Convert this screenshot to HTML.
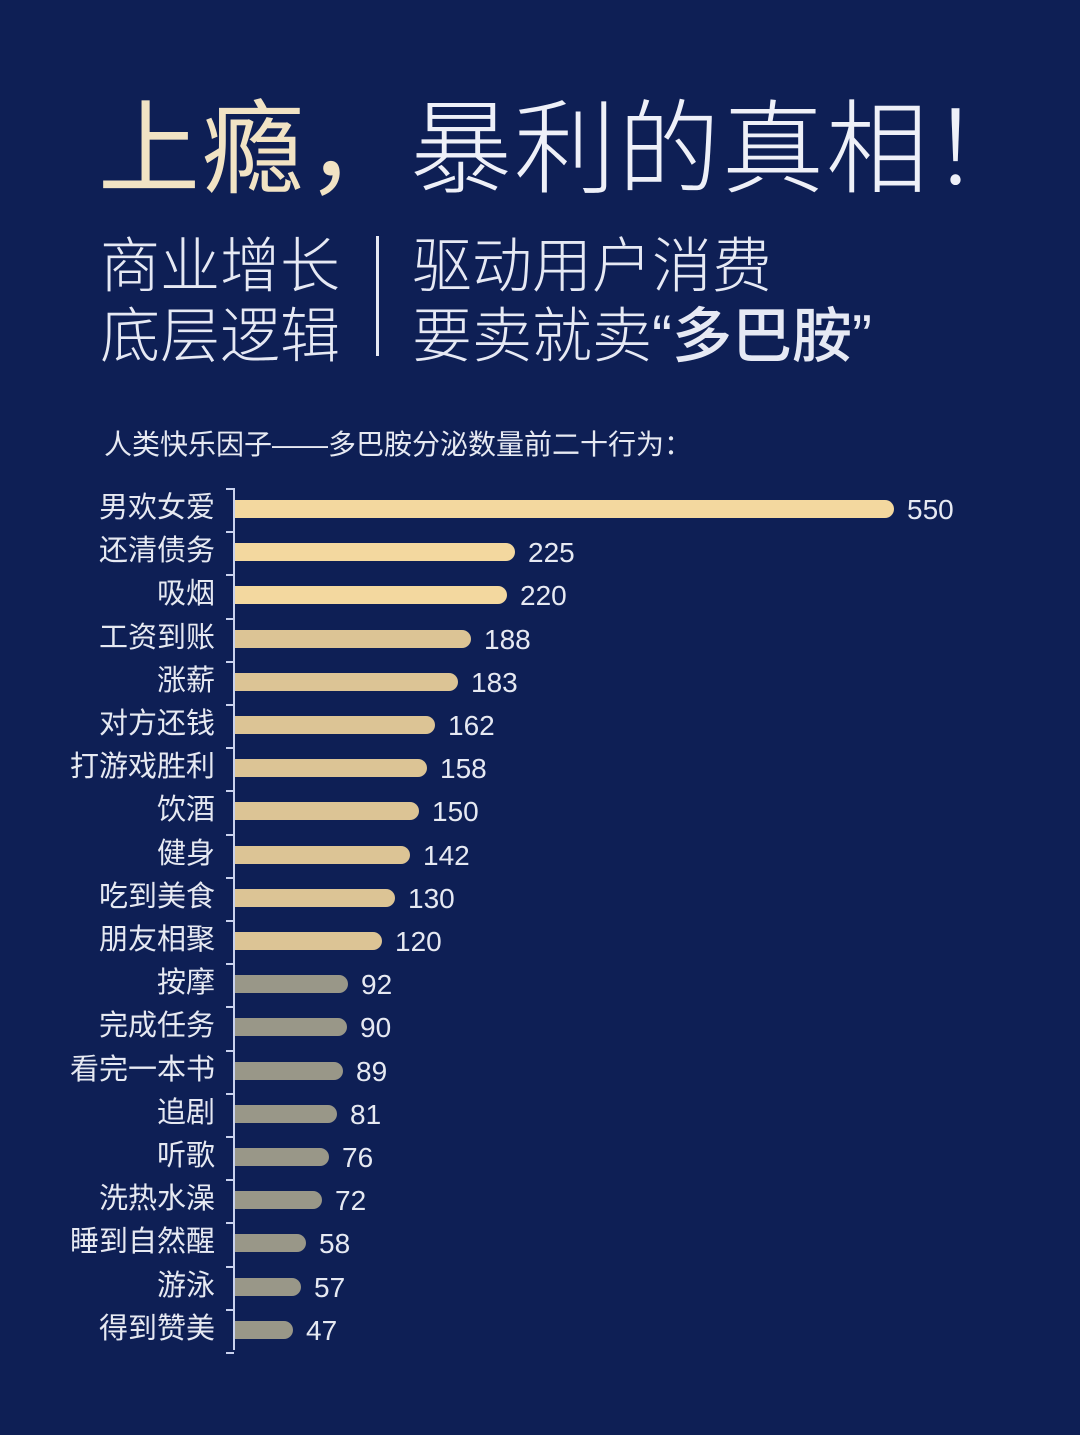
<!DOCTYPE html>
<html><head><meta charset="utf-8"><style>
body{margin:0;width:1080px;height:1435px;background:#0e1f55;overflow:hidden;position:relative;font-family:"Liberation Sans","Noto Sans CJK SC",sans-serif;}
.a{position:absolute;white-space:nowrap;}
.t{font-size:102px;font-weight:300;top:68px;left:98px;letter-spacing:2px;color:#eef0f8;}
.s{font-size:60px;font-weight:300;color:#e6e9f4;}
.lbl{position:absolute;right:865px;font-size:29px;color:#e6e9f2;line-height:30px;}
.val{position:absolute;font-size:28px;color:#e6e9f2;line-height:30px;font-family:"Liberation Sans",sans-serif;}
.bar{position:absolute;left:235px;height:18px;border-radius:0 9px 9px 0;}
.tk{position:absolute;left:226px;width:8px;height:2px;background:#c9d2ee;}
</style></head><body>
<div class="a t"><span style="color:#f1e3c4;font-weight:400">上瘾，</span>暴利的真相！</div>
<div class="a s" style="left:100px;top:218px">商业增长</div>
<div class="a s" style="left:100px;top:288px">底层逻辑</div>
<div class="a" style="left:376px;top:236px;width:3px;height:120px;background:#e6e9f4"></div>
<div class="a s" style="left:412px;top:218px">驱动用户消费</div>
<div class="a s" style="left:412px;top:288px">要卖就卖“<span style="font-weight:500">多巴胺</span>”</div>
<div class="a" style="left:104px;top:423px;font-size:28px;color:#e6e9f2">人类快乐因子——多巴胺分泌数量前二十行为：</div>
<div class="a" style="left:233px;top:488px;width:2px;height:862px;background:#c9d2ee"></div>
<div id="c"></div>
<script>
var d=[["男欢女爱",550,894],["还清债务",225,515],["吸烟",220,507],["工资到账",188,471],["涨薪",183,458],["对方还钱",162,435],["打游戏胜利",158,427],["饮酒",150,419],["健身",142,410],["吃到美食",130,395],["朋友相聚",120,382],["按摩",92,348],["完成任务",90,347],["看完一本书",89,343],["追剧",81,337],["听歌",76,329],["洗热水澡",72,322],["睡到自然醒",58,306],["游泳",57,301],["得到赞美",47,293]];
var h="";
for(var i=0;i<d.length;i++){var y=509+i*43.2;
var col=i<3?"#f3d89f":(i<11?"#dcc495":"#999788");
h+='<div class="lbl" style="top:'+(y-16)+'px">'+d[i][0]+'</div>';
h+='<div class="bar" style="top:'+(y-9)+'px;width:'+(d[i][2]-235)+'px;background:'+col+'"></div>';
h+='<div class="val" style="top:'+(y-14)+'px;left:'+(d[i][2]+13)+'px">'+d[i][1]+'</div>';
h+='<div class="tk" style="top:'+(y-21)+'px"></div>';}
h+='<div class="tk" style="top:'+(509+20*43.2-21)+'px"></div>';
document.getElementById("c").innerHTML=h;
</script>
</body></html>
